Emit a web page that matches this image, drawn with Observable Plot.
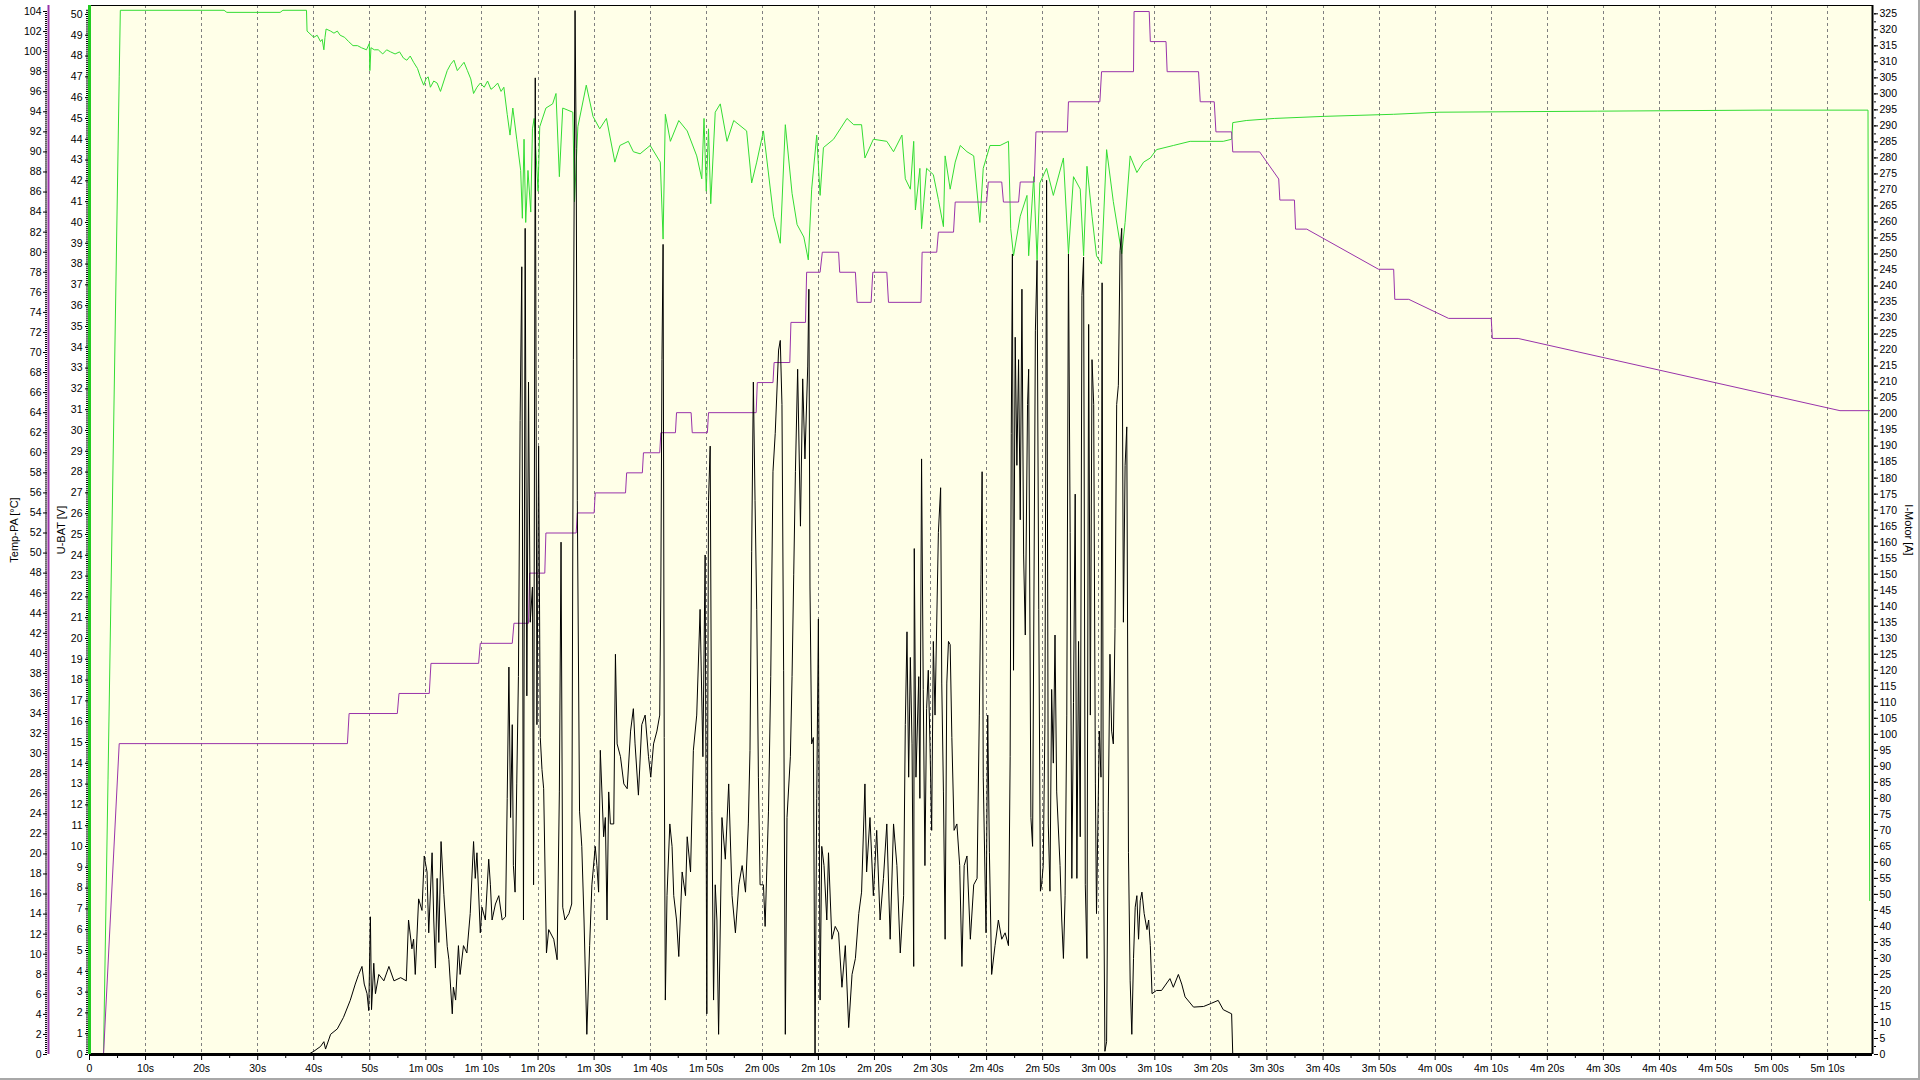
<!DOCTYPE html>
<html>
<head>
<meta charset="utf-8">
<script src="https://cdn.jsdelivr.net/npm/d3@7"></script>
<script src="https://cdn.jsdelivr.net/npm/@observablehq/plot@0.6"></script>
<style>
html, body { margin: 0; padding: 0; background: #ffffff; overflow: hidden; }
#wrap { position: relative; width: 1920px; height: 1080px; overflow: hidden; }
#edge { position: absolute; left: 0; top: 0; width: 1920px; height: 1080px; box-sizing: border-box;
        border-right: 2px solid #a8a8a8; border-bottom: 2px solid #a8a8a8; pointer-events: none; }
</style>
</head>
<body>
<div id="wrap"><div id="chart"></div><div id="edge"></div></div>
<script>
// ---------- axis ranges ----------
const timeDomain = [0, 318];           // seconds
const T_MAX = 104.6;                   // Temp-PA axis top [°C]
const U_MAX = 50.43;                   // U-BAT axis top [V]
const I_MAX = 327.6;                   // I-Motor axis top [A]

// ---------- tick values ----------
const timeTicks = [0,10,20,30,40,50,60,70,80,90,100,110,120,130,140,150,160,170,180,190,200,210,220,230,240,250,260,270,280,290,300,310];
const timeMinor = [5,15,25,35,45,55,65,75,85,95,105,115,125,135,145,155,165,175,185,195,205,215,225,235,245,255,265,275,285,295,305,315];
const gridTicks = timeTicks.slice(1);
const tempTicks = d3.range(0, 105, 2);
const tempMinor = d3.range(0, 521).map(i => i * 0.2);
const ubatTicks = d3.range(0, 51, 1);
const ubatMinor = d3.range(0, 503).map(i => i * 0.1);
const imotTicks = d3.range(0, 326, 5);
const imotMinor = d3.range(0, 131).map(i => i * 2.5);

// ---------- series: [time s, value] ----------
const uBat = [
[0,0],[2.5,0],[3.3,13.2],[5.3,47],[5.5,50.2],[24,50.2],[24.5,50.1],[34,50.1],[34.5,50.2],[38.7,50.2],[38.8,49.2],
[40.0,48.9],[40.6,49.0],[41.2,48.7],[41.5,48.8],[41.8,48.3],[42.0,48.9],[42.2,49.3],[43.0,49.2],[43.6,49.1],[44.2,49.2],
[44.7,49.0],[45.5,48.9],[46.2,48.7],[47.0,48.5],[47.8,48.5],[48.5,48.4],[49.4,48.3],[49.9,48.6],[50.0,47.3],[50.2,48.4],
[50.8,48.3],[51.5,48.3],[52.3,48.1],[53.0,48.3],[53.7,48.2],[54.5,48.1],[55.3,48.2],[56.0,47.9],[56.6,47.8],[57.2,48.0],
[57.8,47.7],[58.5,47.4],[59.0,47.0],[59.6,46.6],[60.0,46.9],[60.4,47.0],[60.8,46.5],[61.4,46.8],[62.0,46.7],[62.6,46.3],
[63.2,46.8],[63.8,47.3],[64.4,47.6],[65,47.8],[65.6,47.3],[66.2,47.5],[66.8,47.7],[67.4,47.3],[68.0,46.9],[68.5,46.2],
[69.1,46.5],[69.7,46.7],[70.4,46.5],[71.0,46.8],[71.6,46.4],[72.1,46.5],[72.8,46.7],[73.4,46.3],[73.9,46.5],
[74.5,45.2],[75.0,44.2],[75.5,45.5],[76.2,44.0],[76.9,42.5],[77.2,40.2],[77.5,44.0],[77.8,40.0],
[78.2,42.5],[78.7,40.5],[79.0,44.5],[79.3,45.0],[79.7,43],[80.0,41.5],[80.3,44.6],[81.4,45.5],[82.6,45.7],[83.2,46.2],[83.8,42.2],
[84.4,45.5],[86.2,45.3],[86.5,41.0],[87.1,44.6],[88.6,46.6],[89.8,45.1],[91,44.5],[92.2,45],[93.7,42.9],[94.6,43.7],[96.1,43.9],
[97.0,43.4],[98.2,43.3],[100.0,43.7],[101.8,42.9],[102.3,39.2],[102.7,45.2],[103.6,43.9],[105.1,44.9],[106.6,44.4],[108.3,43.2],
[109.2,42.1],[109.6,45.0],[110.0,41.5],[110.4,44.5],[110.8,40.9],[111.6,45.3],[112.5,45.7],[113.7,43.9],[114.9,44.9],[117.2,44.4],
[118.1,41.9],[119.0,42.9],[120.2,44.4],[122.0,40.3],[123.2,39.0],[124.1,44.7],[125.3,41.4],[126.2,39.9],[127.4,39.3],[128.2,38.2],
[128.8,41.6],[129.7,44.2],[130.3,41.3],[130.9,43.6],[132.7,44.0],[135.1,45.0],[136.3,44.7],[137.7,44.7],[138.3,43.1],[139.8,44.0],
[142.2,43.9],[143.4,43.4],[144.9,44.2],[145.5,42.1],[146.4,41.6],[147.0,43.9],[147.3,40.6],[148.1,42.6],[148.4,39.7],[149.3,42.6],
[150.5,42.3],[151.4,41.1],[152.3,39.8],[152.6,43.2],[153.5,41.6],[154.4,42.9],[155.3,43.7],[156.5,43.4],[157.7,43.2],[158.8,40.0],
[159.4,42.6],[160.6,43.7],[162.4,43.7],[163.9,43.9],[164.3,39.7],[164.8,38.4],[166.0,40.3],[167.2,41.3],[167.5,38.4],[168.4,42.2],
[169.0,38.2],[169.5,41.9],[170.7,42.6],[171.9,41.3],[173.7,43.1],[174.6,38.5],[175.5,42.2],[176.7,41.6],[177.3,38.4],[177.9,42.7],
[178.8,40.3],[179.6,38.4],[180.5,38.0],[181.4,43.5],[182.6,41.0],[184.1,38.5],[184.7,40.0],[185.6,43.2],[186.8,42.4],[188.0,42.9],
[189.2,43.1],[190.3,43.5],[193.3,43.7],[196.3,43.9],[199.3,43.9],[202.2,43.9],[203.7,44.0],[203.9,44.8],[206.3,44.9],[211.3,45.0],
[220.2,45.1],[232.6,45.2],[240.7,45.3],[268.9,45.35],[298.3,45.4],[317.2,45.4],[317.5,7.4]
];

const tempPA = [
[0,0],[2.5,0],[5.3,31],[46.0,31],[46.3,34],[54.9,34],[55.2,36],[60.6,36],[60.9,39],[69.4,39],[69.7,41],[75.4,41],[75.7,43],
[78.3,43],[78.5,48],[81.2,48],[81.4,52],[86.8,52],[87.0,54],[90.0,54],[90.2,56],[95.6,56],[95.8,58],[98.6,58],[98.8,60],
[101.7,60],[101.9,62],[104.5,62],[104.7,64],[107.3,64],[107.5,62],[110.2,62],[110.4,64],[118.9,64],[119.1,67],[121.9,67],
[122.1,69],[124.9,69],[125.1,73],[127.7,73],[127.9,78],[130.3,78],[130.7,80],[133.6,80],[133.8,78],[136.6,78],[136.9,75],
[139.4,75],[139.7,78],[142.2,78],[142.5,75],[148.3,75],[148.5,80],[151.1,80],[151.4,82],[154.1,82],[154.4,85],[160.0,85],
[160.3,87],[162.7,87],[163.0,85],[165.7,85],[166.0,87],[168.5,87],[168.8,92],[174.4,92],[174.6,95],[180.2,95],[180.5,98],
[186.2,98],[186.3,104],[189.0,104],[189.2,101],[192.0,101],[192.2,98],[197.8,98],[198.1,95],[200.6,95],[200.9,92],[203.7,92],
[203.9,90],[208.7,90],[212.1,87.3],[212.3,85.2],[214.9,85.2],[215.1,82.3],[217.1,82.3],[229.9,78.3],[232.6,78.3],[232.8,75.3],
[235.3,75.3],[242.4,73.4],[250.0,73.4],[250.2,71.4],[254.8,71.4],[312.2,64.2],[317.5,64.2]
];

const iMotor = [
[0,0],[39.0,0],[40.0,1],[41.2,2.5],[41.8,4],[42.1,1.7],[43,6.3],[44.2,8],[45.3,11.6],[46.5,16.9],[47.4,22],[48.0,25],[48.6,27.5],
[49.0,22],[49.5,19],[49.8,13.7],[50.1,43],[50.3,14],[50.7,28.5],[51,19],[51.6,25],[52.5,23],[53.4,27.5],[54.3,23],[55.5,24],
[56.5,23],[56.9,42],[57.5,33],[57.8,36],[58.1,25],[58.7,48.6],[59.3,45],[59.7,62],[60.2,57],[60.5,38],[61.1,63],[61.4,42],
[61.7,27],[62,55],[62.3,35],[62.7,66.5],[63.2,50],[63.8,33.8],[64.1,29.6],[64.7,12.7],[64.9,21],[65.3,17],[65.8,34],[66.1,25],
[66.7,34],[67.3,31.7],[67.9,44],[68.5,66.5],[68.8,55],[69.1,63],[69.7,38],[70.0,46],[70.6,42],[71.2,61],[71.5,53],[71.8,42],
[72.4,47],[73,49.6],[73.6,42],[74.2,43],[74.5,80],[74.8,121],[75.1,74],[75.4,103],[75.6,59],[75.9,50.7],[76.2,84.5],[76.5,118],
[76.8,198],[77.1,246],[77.4,42],[77.7,258],[78.0,112],[78.3,210],[78.6,135],[79.0,146],[79.2,53],[79.5,305],[79.8,103],[80.1,190],
[80.4,99],[80.7,89],[81.0,83],[81.5,31.7],[81.9,39],[82.8,36],[83.4,29.6],[83.8,82],[84.1,160],[84.4,46],[84.8,42],[85.5,44],
[86.0,47],[86.3,217],[86.6,326],[86.8,283],[87.0,173],[87.4,76],[87.8,65],[88.2,42],[88.7,6.3],[89.2,34],[89.6,53],[90.2,65],
[90.5,59],[90.8,50.7],[91.1,95],[91.7,68],[92.0,74],[92.3,42],[92.6,82],[92.9,72],[93.5,72],[93.8,125],[94.1,97],[94.7,93],
[95.3,84.5],[95.9,83],[96.5,101],[97.0,108],[97.3,97],[97.9,81],[98.5,103],[99.1,106],[99.7,93],[100.1,86.6],[100.6,97],[101.2,101],
[101.7,106],[101.9,146],[102.1,217],[102.3,253],[102.5,99],[102.7,17],[103,49.6],[103.5,72],[103.9,65],[104.2,49.6],[104.7,42],
[105.1,30.6],[105.7,57],[106.3,49.6],[106.6,68],[107.2,57],[107.7,95],[108.3,106],[108.9,139],[109.4,93],[109.8,156],[110.1,12.7],
[110.4,173],[110.7,190],[111.0,76],[111.3,17],[111.6,53],[111.9,42],[112.2,6.3],[112.8,74],[113.4,61],[114,84.5],[114.6,49.6],
[115.2,38],[115.8,53],[116.4,59],[117,50.7],[117.5,72],[117.8,95],[118.1,157],[118.4,210],[118.7,173],[119.0,139],[119.3,86.6],
[119.6,53],[120.2,53],[120.5,40],[121.1,76],[121.5,118],[121.9,182],[122.3,194],[122.9,220],[123.2,223],[123.5,203],[123.8,120],
[124.1,6.3],[124.4,74],[125,93],[125.3,118],[125.6,150],[125.9,182],[126.3,214],[126.8,165],[127.2,211],[127.6,186],[128.1,215],
[128.3,239],[128.5,146],[128.8,97],[129.1,99],[129.4,0],[129.7,80],[130,136],[130.3,17],[130.6,65],[131.0,59],[131.5,42],
[131.8,63],[132.4,36],[133,40],[133.6,38],[134.2,21],[134.8,34],[135.4,8.4],[136,25],[136.6,30],[137.2,44],[137.7,50.7],
[138.3,84.5],[138.6,57],[139.2,74],[139.8,49.6],[140.4,70],[141,42],[141.6,55],[142.2,72],[142.8,36],[143.4,72],[144,59],
[144.6,31.7],[145.2,49.6],[145.5,103],[145.8,132],[146.1,86.6],[146.4,124],[146.7,97],[147,27.5],[147.1,158],[147.4,86.6],
[147.9,118],[148.1,80],[148.4,186],[148.7,114],[149,59],[149.3,108],[149.6,120],[149.9,97],[150.2,70],[150.5,129],[150.8,106],
[151.4,163],[151.8,177],[152.0,116],[152.3,82],[152.6,36],[152.9,116],[153.2,129],[153.5,128],[153.8,99],[154.2,70],[154.7,72],
[155.2,59],[155.6,27.5],[156,59],[156.5,62],[157.1,36],[157.7,53],[158.3,55],[158.7,106],[159,150],[159.2,182],[159.4,86.6],
[159.9,38],[160.2,106],[160.5,63],[160.9,25],[161.5,34],[162.1,42],[162.7,36],[163.3,38],[163.9,34],[164.2,93],[164.4,194],
[164.6,250],[164.8,120],[165.1,224],[165.4,184],[165.7,217],[166,167],[166.3,239],[166.6,156],[166.9,131],[167.3,203],[167.5,214],
[167.9,74],[168.2,65],[168.7,226],[169,248],[169.3,139],[169.6,51],[169.8,53],[170.1,59],[170.4,103],[170.7,273],[171.0,72],
[171.3,51],[171.6,114],[171.9,91],[172.2,131],[172.5,82],[173.1,59],[173.4,42],[173.7,30],[174,49.6],[174.3,106],[174.6,250],
[174.9,163],[175.2,55],[175.5,110],[175.8,175],[176.1,55],[176.4,129],[176.7,68],[177,237],[177.3,249],[177.6,53],[177.9,30],
[178.2,228],[178.5,106],[178.8,217],[179.1,203],[179.4,84.5],[179.6,44],[180.1,101],[180.4,86.6],[180.6,241],[180.8,76],[181.1,1],
[181.4,4],[181.7,76],[182,125],[182.3,101],[182.6,97],[182.9,133],[183.2,203],[183.5,209],[183.8,251],[184.1,258],[184.4,135],
[184.7,184],[185,196],[185.3,63],[185.6,23],[185.9,6.3],[186.2,30],[186.5,46],[186.8,49.6],[187.1,36],[187.4,48],[187.7,50.7],
[188.1,44],[188.6,39],[188.9,42],[189.2,34],[189.5,19],[190.3,20],[191.2,20],[192.7,23.7],[193.3,21],[194.2,25],[194.8,22],
[195.4,18],[196.9,14.8],[198.7,15],[200.1,16],[201.3,16.9],[202.2,14],[203.7,12.7],[203.9,0],[317.5,0]
];

// ---------- styling ----------
const GREEN = "#33dd33";
const GREEN_AXIS = "#22cc22";
const PURPLE = "#9933aa";
const BG = "#FFFFE8";

const fmtTime = t => t === 0 ? "0" : t < 60 ? `${t}s` : `${Math.floor(t / 60)}m ${String(t % 60).padStart(2, "0")}s`;
const blank = () => "";

const chart = Plot.plot({
  width: 1920,
  height: 1080,
  marginLeft: 89,
  marginRight: 48,
  marginTop: 5,
  marginBottom: 26,
  style: {fontFamily: "'Liberation Sans', Arial, sans-serif", fontSize: "10.5px", background: "transparent", color: "#000"},
  x: {domain: timeDomain},
  y: {domain: [0, 1]},
  marks: [
    Plot.frame({fill: BG, stroke: "none"}),
    Plot.ruleX(gridTicks, {stroke: "#808080", strokeDasharray: "3,3", strokeWidth: 1, shapeRendering: "crispEdges"}),
    Plot.line(uBat, {x: d => d[0], y: d => d[1] / U_MAX, stroke: GREEN, strokeWidth: 1}),
    Plot.line(tempPA, {x: d => d[0], y: d => d[1] / T_MAX, stroke: PURPLE, strokeWidth: 1}),
    Plot.line(iMotor, {x: d => d[0], y: d => d[1] / I_MAX, stroke: "#000", strokeWidth: 1}),
    // frame lines
    Plot.ruleY([1], {stroke: "#000", strokeWidth: 1}),
    Plot.ruleY([0], {stroke: "#000", strokeWidth: 3}),
    Plot.ruleX([timeDomain[1]], {stroke: "#000", strokeWidth: 2}),
    Plot.ruleX([timeDomain[0]], {stroke: GREEN_AXIS, strokeWidth: 3}),
    Plot.ruleX([timeDomain[0]], {stroke: PURPLE, strokeWidth: 2, dx: -41}),
    // x axis
    Plot.axisX(timeMinor, {anchor: "bottom", tickSize: 4, tickFormat: blank}),
    Plot.axisX(timeTicks, {anchor: "bottom", tickSize: 6, tickPadding: 4, tickFormat: fmtTime}),
    // Temp-PA axis (far left)
    Plot.axisY(tempMinor.map(v => v / T_MAX), {anchor: "left", dx: -42, tickSize: 2, tickFormat: blank}),
    Plot.axisY(tempTicks.map(v => v / T_MAX), {anchor: "left", dx: -42, tickSize: 4, tickPadding: 2, tickFormat: d => Math.round(d * T_MAX)}),
    // U-BAT axis
    Plot.axisY(ubatMinor.map(v => v / U_MAX), {anchor: "left", dx: -1, tickSize: 2, tickFormat: blank}),
    Plot.axisY(ubatTicks.map(v => v / U_MAX), {anchor: "left", dx: -1, tickSize: 3, tickPadding: 3, tickFormat: d => Math.round(d * U_MAX)}),
    // I-Motor axis (right)
    Plot.axisY(imotMinor.map(v => v / I_MAX), {anchor: "right", dx: 1, tickSize: 2, tickFormat: blank}),
    Plot.axisY(imotTicks.map(v => v / I_MAX), {anchor: "right", dx: 1, tickSize: 4, tickPadding: 2, tickFormat: d => Math.round(d * I_MAX)}),
    // axis titles
    Plot.text(["Temp-PA [°C]"], {text: d => d, frameAnchor: "left", textAnchor: "middle", dx: -75, rotate: -90, fontSize: 11}),
    Plot.text(["U-BAT [V]"], {text: d => d, frameAnchor: "left", textAnchor: "middle", dx: -28, rotate: -90, fontSize: 11}),
    Plot.text(["I-Motor [A]"], {text: d => d, frameAnchor: "right", textAnchor: "middle", dx: 36, rotate: 90, fontSize: 11})
  ]
});
document.getElementById("chart").appendChild(chart);
</script>
</body>
</html>
